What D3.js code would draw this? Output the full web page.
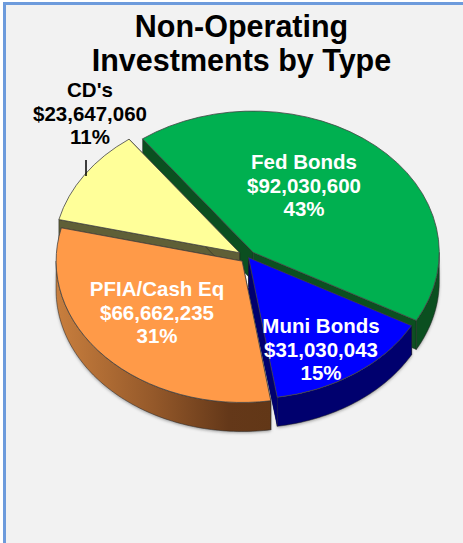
<!DOCTYPE html>
<html>
<head>
<meta charset="utf-8">
<script src="https://cdn.jsdelivr.net/npm/d3@7"></script>
<style>
  html, body { margin: 0; padding: 0; background: #fff; }
  svg { display: block; }
  text { font-family: "Liberation Sans", Arial, sans-serif; font-weight: bold; text-anchor: middle; }
</style>
</head>
<body>
<div id="chart-area"></div>
<script>
// Data
let categories = ['Fed Bonds', "CD's", 'PFIA/Cash Eq', 'Muni Bonds'];
let amounts = [92030600, 23647060, 66662235, 31030043];
let percents = ['43%', '11%', '31%', '15%'];
let sliceOrder = ['Fed Bonds', 'Muni Bonds', 'PFIA/Cash Eq', "CD's"];
let titleLines = ['Non-Operating', 'Investments by Type'];

let width = 463, height = 543;

let svg = d3.select('#chart-area').append('svg')
  .attr('width', width)
  .attr('height', height);

// Panel
svg.append('rect')
  .attr('x', 4.5).attr('y', 3.5)
  .attr('width', width + 10).attr('height', height + 10)
  .attr('fill', '#f2f2f2')
  .attr('stroke', '#6d9bdc')
  .attr('stroke-width', 3);

let defs = svg.append('defs');
let shadow = defs.append('filter').attr('id', 'shadow')
  .attr('x', '-10%').attr('y', '-10%').attr('width', '120%').attr('height', '120%');
shadow.append('feGaussianBlur').attr('stdDeviation', 1.5);

let wallGrad = defs.append('linearGradient').attr('id', 'orange-wall')
  .attr('gradientUnits', 'userSpaceOnUse')
  .attr('x1', 55).attr('x2', 272).attr('y1', 0).attr('y2', 0);
wallGrad.append('stop').attr('offset', '0%').attr('stop-color', '#c97f3e');
wallGrad.append('stop').attr('offset', '45%').attr('stop-color', '#95592a');
wallGrad.append('stop').attr('offset', '80%').attr('stop-color', '#643819');
wallGrad.append('stop').attr('offset', '100%').attr('stop-color', '#623717');

// Pie geometry
let colors = d3.scaleOrdinal()
  .domain(sliceOrder)
  .range(['#00b050', '#0000ff', '#ff9a48', '#ffff99']);
let wallColors = d3.scaleOrdinal()
  .domain(sliceOrder)
  .range(['#0b4f20', '#00006e', 'url(#orange-wall)', '#5f5f37']);
// how far each slice is pulled out of the pie
let explode = d3.scaleOrdinal()
  .domain(sliceOrder)
  .range([8, 1, 8, 10]);

let cx = 248, cy = 257, rx = 186, tilt = 0.76, depth = 29;
let start = -36.5 * Math.PI / 180;

let amountOf = d3.scaleOrdinal().domain(categories).range(amounts);

let pie = d3.pie()
  .sort(null)
  .value(d => amountOf(d))
  .startAngle(start)
  .endAngle(start + 2 * Math.PI);

let arcs = pie(sliceOrder);
let sliceOf = name => arcs.find(d => d.data === name);

let arc = d3.arc().innerRadius(0).outerRadius(rx);

function mid(d) { return (d.startAngle + d.endAngle) / 2; }
function origin(d) {
  let e = explode(d.data);
  return [cx + e * Math.sin(mid(d)), cy - e * tilt * Math.cos(mid(d))];
}
// point on the rim of a slice, screen coordinates
function rim(d, a, drop) {
  let o = origin(d);
  return [o[0] + rx * Math.sin(a), o[1] - rx * tilt * Math.cos(a) + drop];
}

let line = d3.line();

function wallPath(d) {
  // only the part of the rim that faces the viewer
  let from = Math.max(d.startAngle, Math.PI / 2);
  let to = Math.min(d.endAngle, 3 * Math.PI / 2);
  if (from >= to) return null;
  let angles = d3.range(from, to, 0.02).concat([to]);
  let top = angles.map(a => rim(d, a, 0));
  let bottom = angles.slice().reverse().map(a => rim(d, a, depth));
  return line(top.concat(bottom)) + 'Z';
}

function sidePath(d, a) {
  let o = origin(d);
  return line([o, rim(d, a, 0), rim(d, a, depth), [o[0], o[1] + depth]]) + 'Z';
}

// the navy strip of the blue slice that shows along the orange slice
function stripPath() {
  let blue = sliceOf('Muni Bonds'), orange = sliceOf('PFIA/Cash Eq');
  let blueEdge = d3.interpolate(origin(blue), rim(blue, blue.endAngle, 0));
  let orangeEdge = d3.interpolate(origin(orange), rim(orange, orange.startAngle, 0));
  return line([
    blueEdge(0.14),
    rim(blue, blue.endAngle, 0),
    rim(blue, blue.endAngle, depth),
    orangeEdge(1),
    orangeEdge(0.2)
  ]) + 'Z';
}

// Painted back to front
let paintOrder = ['Fed Bonds', "CD's", 'Muni Bonds', 'PFIA/Cash Eq'];
let slices = paintOrder.map(sliceOf);

slices.forEach(d => {
  let g = svg.append('g').attr('class', 'slice');
  let wall = wallColors(d.data);

  let shape = wallPath(d);
  if (shape) {
    g.append('path').attr('d', shape)
      .attr('fill', '#555').attr('opacity', 0.5)
      .attr('filter', 'url(#shadow)')
      .attr('transform', 'translate(0,1.5)');
  }
  [d.startAngle, d.endAngle].forEach(a => {
    g.append('path').attr('d', sidePath(d, a))
      .attr('fill', d.data === 'PFIA/Cash Eq' ? '#623717' : wall)
      .attr('stroke', '#222').attr('stroke-width', 0.5);
  });
  if (shape) {
    g.append('path').attr('d', shape)
      .attr('fill', wall)
      .attr('stroke', '#222').attr('stroke-width', 0.5);
  }
  if (d.data === 'Muni Bonds') {
    g.append('path').attr('d', stripPath()).attr('fill', wall);
  }

  let o = origin(d);
  g.append('path')
    .attr('d', arc(d))
    .attr('transform', 'translate(' + o[0] + ',' + o[1] + ') scale(1,' + tilt + ')')
    .attr('fill', colors(d.data))
    .attr('stroke', '#444')
    .attr('stroke-width', 0.8)
    .attr('vector-effect', 'non-scaling-stroke');
});

// Title
svg.selectAll('.title').data(titleLines).enter().append('text')
  .attr('class', 'title')
  .attr('x', 241.5)
  .attr('y', (d, i) => 37 + i * 34)
  .attr('font-size', 30.5)
  .attr('fill', '#000')
  .text(d => d);

// Data labels
let labelPos = d3.scaleOrdinal().domain(categories)
  .range([[304, 169], [90, 97], [157, 296], [321, 333]]);

categories.forEach((c, i) => {
  let p = labelPos(c);
  let fill = c === "CD's" ? '#000' : '#fff';
  let lines = [c, '$' + d3.format(',')(amounts[i]), percents[i]];
  svg.selectAll(null).data(lines).enter().append('text')
    .attr('x', p[0])
    .attr('y', (d, j) => p[1] + j * 23.5)
    .attr('font-size', 20.5)
    .attr('fill', fill)
    .text(d => d);
});

// Leader line for the CD's label
svg.append('line')
  .attr('x1', 86).attr('x2', 86)
  .attr('y1', 160).attr('y2', 176)
  .attr('stroke', '#000')
  .attr('stroke-width', 1.5);
</script>
</body>
</html>
